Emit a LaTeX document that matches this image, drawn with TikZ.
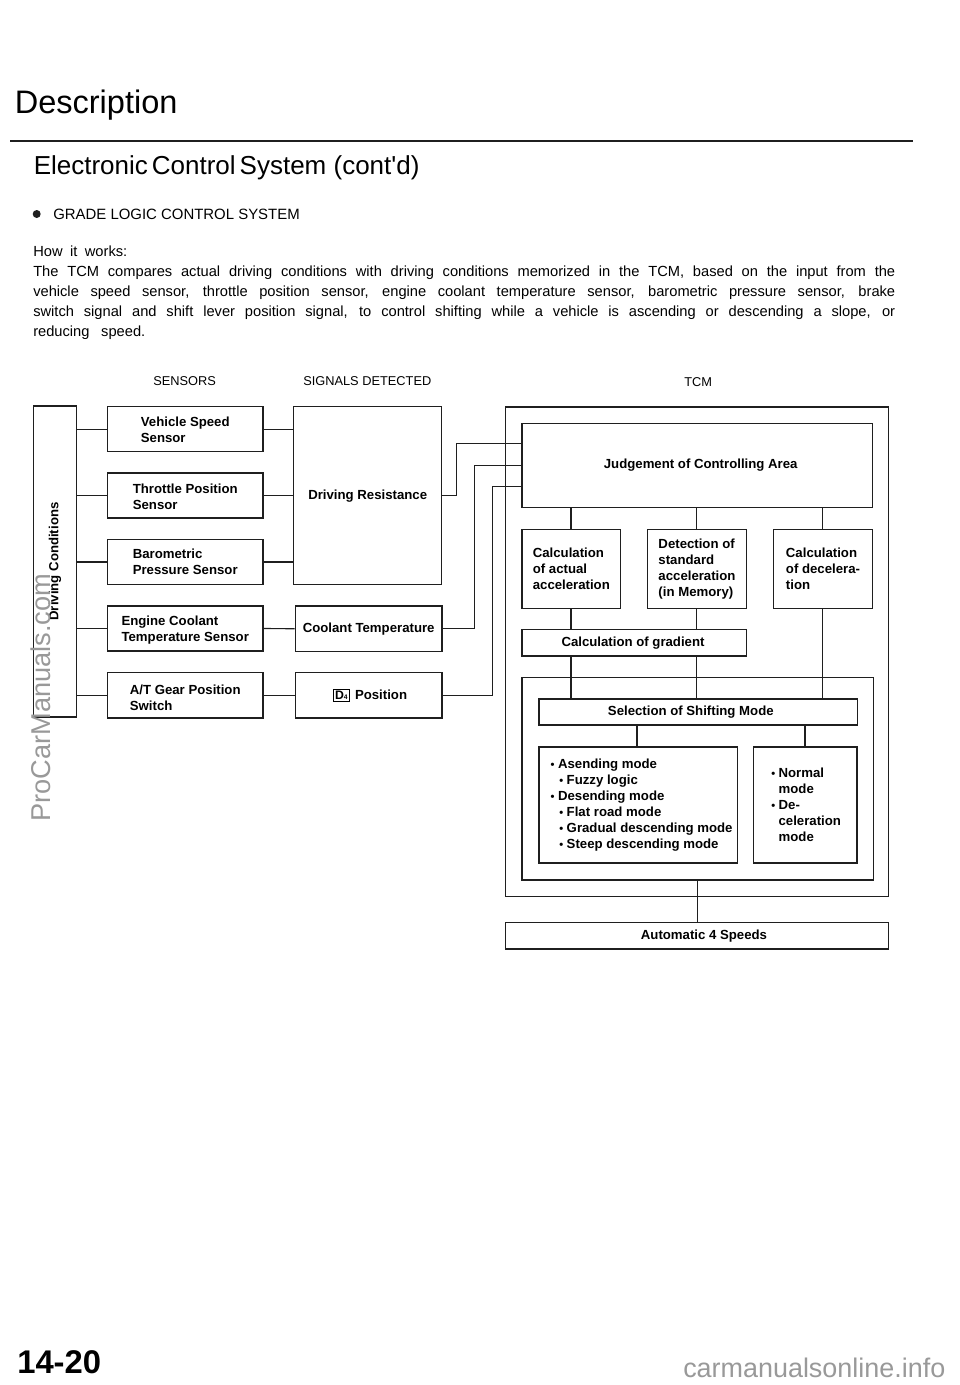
\documentclass[tikz,border=0pt]{standalone}
\usepackage{fontspec}
\setmainfont{Liberation Sans}
\newfontfamily\hfont{Liberation Sans}
\usetikzlibrary{calc}
\definecolor{ink}{gray}{0.12}
\definecolor{wm}{gray}{0.6}
\tikzset{
  box/.style={draw=ink,line width=0.85pt,fill=none,inner sep=0pt,align=left,text=black,
     font=\bfseries\fontsize{9.9}{12}\selectfont},
  wire/.style={draw=ink,line width=0.85pt},
  plain/.style={inner sep=0pt,anchor=base west,text=black},
  capt/.style={plain,font=\fontsize{9.6}{12}\selectfont},
  body/.style={plain,font=\fontsize{11}{15}\selectfont}
}
\newcommand\bx[6][]{\node[box,minimum width={(#4-#3)*0.75pt},minimum height={(#6-#5)*0.75pt},#1] (#2) at ({(#3+#4)/2},{(#5+#6)/2})}
\newcommand\bu{\makebox[5.5pt][l]{\scalebox{.85}{•}}}
\newcommand\bux{\hspace{5.2pt}}
\newcommand\buy{\hspace{1.5pt}}
\newcommand\just[1]{\makebox[646.5pt][s]{#1}}
\newcommand\dnA{\rule{0pt}{8.7pt}}
\newcommand\dnB{\rule{0pt}{10.2pt}}
\begin{document}
\begin{tikzpicture}[x=0.75pt,y=-0.75pt]
\useasboundingbox (0,0) rectangle (960,1385);
\fill[white] (0,0) rectangle (960,1385);
% headings
\node[plain,font=\fontsize{24.4}{28}\selectfont] (h1) at (14.5,113.5) {Description};
\coordinate (ruleL) at (10,141);
\coordinate (ruleR) at (913,141);
\draw[ink,line width=1.2pt] (ruleL) -- (ruleR);
\node[plain,font=\hfont\fontsize{19.5}{22}\selectfont] (h2) at (33.5,174.5) {Electronic\hspace{3pt}Control\hspace{3pt}System (cont'd)};
\fill[ink] (36.7,214) circle (4);
\node[capt,font=\fontsize{11.2}{12}\selectfont] (h3) at (53,219) {GRADE LOGIC CONTROL SYSTEM};
\node[body] (l0) at (33,256) {\makebox[70.5pt][s]{How it works:}};
\node[body] (l1) at (33,276) {\just{The TCM compares actual driving conditions with driving conditions memorized in the TCM, based on the input from the}};
\node[body] (l2) at (33,296) {\just{vehicle speed sensor, throttle position sensor, engine coolant temperature sensor, barometric pressure sensor, brake}};
\node[body] (l3) at (33,316) {\just{switch signal and shift lever position signal, to control shifting while a vehicle is ascending or descending a slope, or}};
\node[body] (l4) at (33,336) {\makebox[84pt][s]{reducing speed.}};
\node[capt] (c1) at (153,385) {SENSORS};
\node[capt] (c2) at (303,385) {SIGNALS DETECTED};
\node[capt] (c3) at (684,386) {TCM};
% left column
\node[box,rotate=90,minimum width={311*0.75pt},minimum height={43*0.75pt}] (dc) at (55,561.5) {\raisebox{-1.5pt}{Driving Conditions}};
\bx{vs}{107.5}{263}{406.7}{451.7}{\dnA Vehicle Speed\\Sensor};
\bx{tp}{107.5}{263}{473}{518}{\dnA Throttle Position\\Sensor};
\bx{bp}{107.5}{263}{539.3}{584.7}{Barometric\\Pressure Sensor};
\bx{ec}{107.5}{263}{606}{651}{\dnB Engine Coolant\\Temperature Sensor};
\bx{at}{107.5}{263}{672.7}{718}{\dnB A/T Gear Position\\Switch};
\bx{dr}{293.7}{441.7}{406.7}{584.7}{\raisebox{-.7pt}{Driving Resistance}};
\bx{ct}{295.3}{442}{606}{651.5}{\raisebox{-1.5pt}{Coolant Temperature}};
\bx{dp}{295.3}{442}{672.7}{718}{\hspace{2pt}\raisebox{-1.5pt}{\setlength{\fboxsep}{1.2pt}\setlength{\fboxrule}{0.4pt}\fbox{\fontsize{9.2}{9}\selectfont D\raisebox{-.3pt}{\fontsize{5}{5}\selectfont 4}}\hspace{4pt}Position}};
\foreach \n in {vs,tp,bp,ec,at}{\draw[wire] (dc.south |- \n.west) -- (\n.west);}
\foreach \n in {vs,tp,bp}{\draw[wire] (\n.east) -- (dr.west |- \n.east);}
\draw[wire] (ec.east) -- (ct.west);
\draw[wire] (at.east) -- (dp.west);
% TCM
\bx{tcm}{505.7}{888.3}{407}{896.7}{};
\bx{ja}{522}{872.7}{423.3}{507.3}{\hspace{5pt}\raisebox{1.5pt}{Judgement of Controlling Area}};
\bx{ca}{522}{620.7}{529.3}{608.3}{Calculation\\of actual\\acceleration};
\bx{ds}{647.3}{746.7}{529.3}{608.3}{Detection of\\standard\\acceleration\\(in Memory)};
\bx{cd}{773.3}{872.7}{529.3}{608.3}{Calculation\\of decelera-\\tion};
\bx{cg}{522}{746.7}{629.7}{656}{\raisebox{-1pt}{Calculation of gradient}\hspace{2pt}};
\bx{sel}{522}{873.3}{677.3}{880}{};
\bx{ss}{539}{857.3}{699}{725}{\raisebox{-1.5pt}{Selection of Shifting Mode}\hspace{11pt}};
\bx{m1}{539}{737.3}{747}{863}{\bux\bu Asending mode\\\bux\hspace{6.5pt}\bu Fuzzy logic\\\bux\bu Desending mode\\\bux\hspace{6.5pt}\bu Flat road mode\\\bux\hspace{6.5pt}\bu Gradual descending mode\\\bux\hspace{6.5pt}\bu Steep descending mode};
\bx{m2}{753.3}{857}{747}{863}{\buy\bu Normal\\\buy\hspace{5.5pt}mode\\\buy\bu De-\\\buy\hspace{5.5pt}celeration\\\buy\hspace{5.5pt}mode};
\bx{au}{505.7}{888.3}{922.7}{949}{\hspace{10.5pt}\raisebox{-.5pt}{Automatic 4 Speeds}};
\coordinate (x1) at (571,0);
\coordinate (x2) at (696.7,0);
\coordinate (x3) at (822.7,0);
\coordinate (x4) at (637,0);
\coordinate (x5) at (805,0);
\coordinate (x6) at (697.3,0);
\draw[wire] (x1 |- ja.south) -- (x1 |- ca.north);
\draw[wire] (x2 |- ja.south) -- (x2 |- ds.north);
\draw[wire] (x3 |- ja.south) -- (x3 |- cd.north);
\draw[wire] (x1 |- ca.south) -- (x1 |- cg.north);
\draw[wire] (x2 |- ds.south) -- (x2 |- cg.north);
\draw[wire] (x1 |- cg.south) -- (x1 |- ss.north);
\draw[wire] (x2 |- cg.south) -- (x2 |- ss.north);
\draw[wire] (x3 |- cd.south) -- (x3 |- ss.north);
\draw[wire] (x4 |- ss.south) -- (x4 |- m1.north);
\draw[wire] (x5 |- ss.south) -- (x5 |- m2.north);
\draw[wire] (x6 |- sel.south) -- (x6 |- au.north);
% long wires into TCM
\coordinate (w1) at (456.7,443.5);
\coordinate (w2) at (474.7,465.5);
\coordinate (w3) at (492.3,486.7);
\draw[wire] (dr.east) -| (w1) -- (ja.west |- w1);
\draw[wire] (ct.east) -| (w2) -- (ja.west |- w2);
\draw[wire] (dp.east) -| (w3) -- (ja.west |- w3);
% page furniture
\node[plain,font=\bfseries\fontsize{24.6}{28}\selectfont] (pg) at (17,1373.5) {14-20};
\node[plain,text=wm,rotate=90,font=\fontsize{20.4}{24}\selectfont] (wa) at (50,822) {ProCarManuals.com};
\node[plain,text=wm,font=\fontsize{20.2}{24}\selectfont] (wb) at (683,1377) {carmanualsonline.info};
\end{tikzpicture}
\end{document}
